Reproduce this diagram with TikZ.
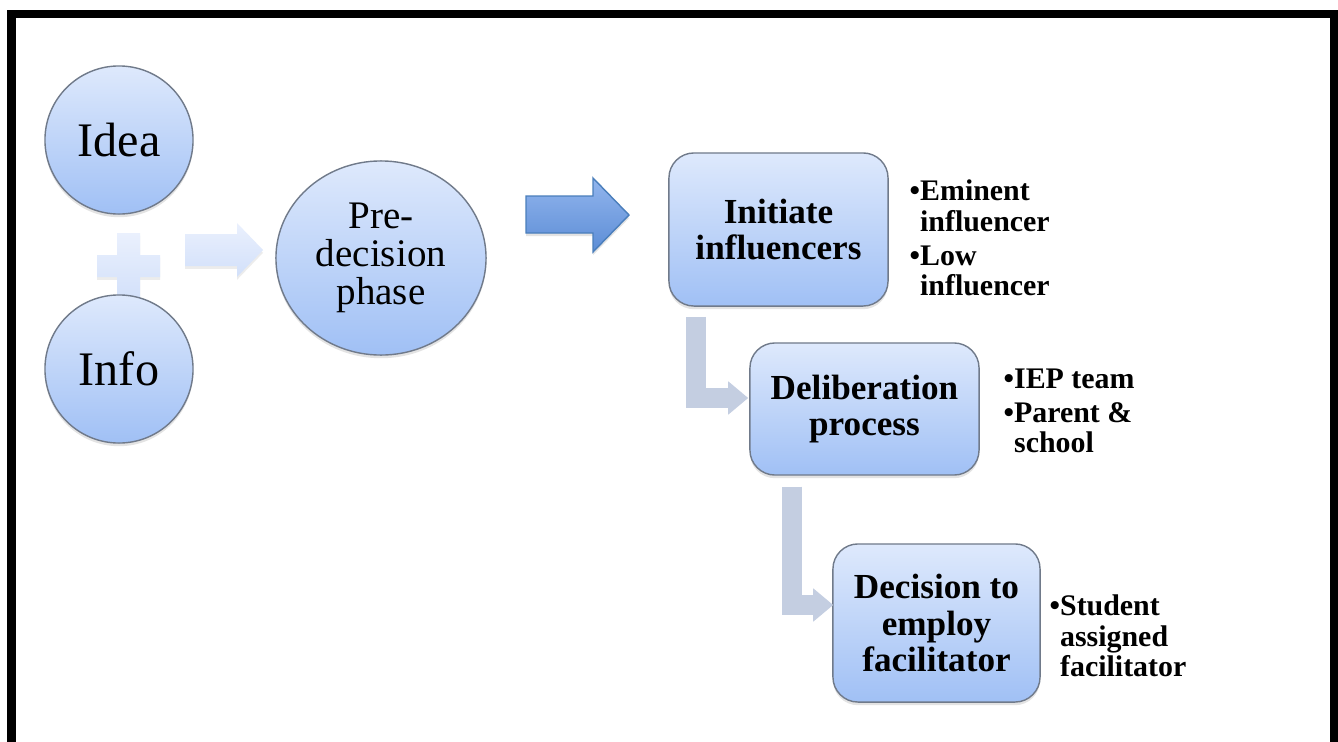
\documentclass[tikz,border=0pt]{standalone}
\usepackage{fontspec}
\setmainfont{Liberation Serif}
\usetikzlibrary{shapes.geometric, arrows.meta, calc, shadows}
\definecolor{bubtop}{RGB}{222,233,252}
\definecolor{bubbot}{RGB}{160,192,245}
\definecolor{bubline}{RGB}{112,122,138}
\definecolor{palet}{RGB}{234,240,253}
\definecolor{paleb}{RGB}{210,224,250}
\definecolor{arrtop}{RGB}{146,181,237}
\definecolor{arrbot}{RGB}{92,141,214}
\definecolor{arrline}{RGB}{74,126,187}
\definecolor{elbowc}{RGB}{196,206,225}

\begin{document}
\begin{tikzpicture}[x=0.01cm, y=-0.01cm, line width=0.4pt,
  bubble/.style={draw=bubline, top color=bubtop, bottom color=bubbot,
    drop shadow={opacity=0.22, shadow xshift=0pt, shadow yshift=-0.9pt}},
  stepbox/.style={bubble, rectangle, rounded corners=0.25cm, align=center, inner sep=0pt,
    font=\fontsize{10}{10.4}\selectfont\bfseries},
  notes/.style={anchor=north west, align=left, inner sep=0pt,
    font=\fontsize{8.5}{8.7}\selectfont\bfseries},
  elbow/.style={draw=elbowc, line width=0.2cm, line join=miter,
    -{Triangle[length=0.2cm, width=0.32cm]}}]
  \useasboundingbox (0,0) rectangle (1338,742);
  \fill[white] (0,0) rectangle (1338,742);
  \draw[line width=0.085cm] (11.5,14) rectangle (1334.5,780);

  % plus and small arrow
  \shade[top color=palet, bottom color=paleb, drop shadow={opacity=0.15, shadow xshift=0pt, shadow yshift=-0.8pt}]
    (117,233) -- (140,233) -- (140,255) -- (160,255) -- (160,277) -- (140,277) -- (140,300)
    -- (117,300) -- (117,277) -- (97,277) -- (97,255) -- (117,255) -- cycle;
  \shade[top color=palet, bottom color=paleb, drop shadow={opacity=0.15, shadow xshift=0pt, shadow yshift=-0.8pt}]
    (185,234) -- (237,234) -- (237,223) -- (263,250) -- (237,277) -- (237,266) -- (185,266) -- cycle;

  \node[bubble, circle, minimum size=1.48cm, inner sep=0pt, font=\fontsize{13.7}{14}\selectfont] (Idea) at (119,140) {Idea};
  \node[bubble, circle, minimum size=1.48cm, inner sep=0pt, font=\fontsize{13.7}{14}\selectfont] (Info) at (119,369) {Info};
  \node[bubble, ellipse, minimum width=2.10cm, minimum height=1.94cm, inner sep=0pt, align=center,
    font=\fontsize{11.1}{10.8}\selectfont] (Pre) at (381,258) {Pre-\\decision\\phase};

  % big arrow
  \shade[top color=arrtop, bottom color=arrbot, draw=arrline, drop shadow={opacity=0.22, shadow xshift=0pt, shadow yshift=-0.9pt}]
    (526,196) -- (593,196) -- (593,178) -- (629,215) -- (593,252) -- (593,233) -- (526,233) -- cycle;

  \node[stepbox, minimum width=2.19cm, minimum height=1.53cm] (Init) at (778.5,229.5) {Initiate\\influencers};
  \node[stepbox, minimum width=2.29cm, minimum height=1.32cm] (Delib) at (864.5,409) {Deliberation\\process};
  \node[stepbox, minimum width=2.07cm, minimum height=1.58cm] (Dec) at (936.5,623) {Decision to\\employ\\facilitator};

  \draw[elbow] ($(Init.south west)+(28,10)$) |- ($(Delib.west)+(-1,-11)$);
  \draw[elbow] ($(Delib.south west)+(43,11)$) |- ($(Dec.west)+(1,-18)$);

  \node[notes] (N1) at (909,179) {\textbullet Eminent\\\phantom{\textbullet}influencer\\[1pt]\textbullet Low\\\phantom{\textbullet}influencer};
  \node[notes] (N2) at (1003,368) {\textbullet IEP team\\[1pt]\textbullet Parent \&\\\phantom{\textbullet}school};
  \node[notes] (N3) at (1049,594) {\textbullet Student\\\phantom{\textbullet}assigned\\\phantom{\textbullet}facilitator};
\end{tikzpicture}
\end{document}
